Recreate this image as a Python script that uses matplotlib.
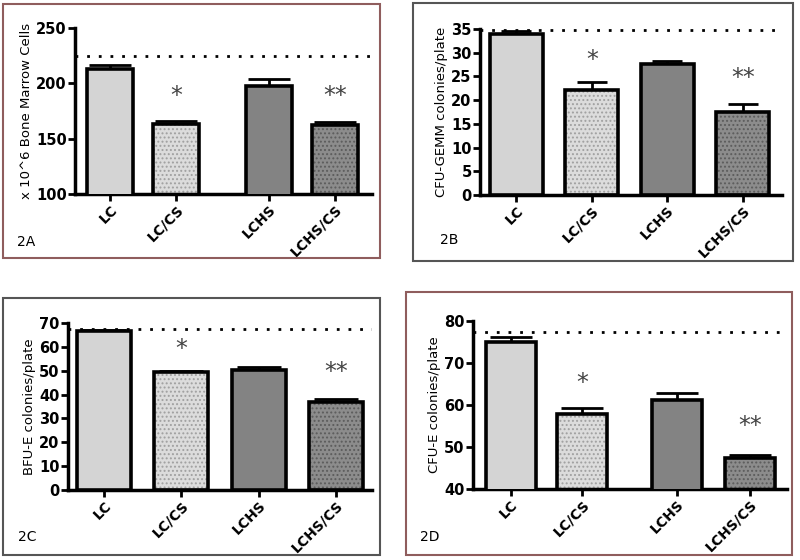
import matplotlib.pyplot as plt
from matplotlib.patches import Rectangle

groups = ["LC", "LC/CS", "LCHS", "LCHS/CS"]

# panel 2A
bm_cells = [213, 163.5, 197.5, 162.5]
bm_err = [4, 2.5, 6.5, 2.5]
bm_ref = 225
# panel 2B
gemm = [34.0, 22.2, 27.7, 17.6]
gemm_err = [0.6, 1.6, 0.6, 1.5]
gemm_ref = 34.7
# panel 2C
bfue = [66.7, 49.4, 50.4, 37.0]
bfue_err = [0.3, 0.5, 1.2, 1.3]
bfue_ref = 67.5
# panel 2D
cfue = [74.9, 57.9, 61.2, 47.3]
cfue_err = [1.2, 1.5, 1.7, 0.8]
cfue_ref = 77.4

fills = ["#d4d4d4", "#dcdcdc", "#838383", "#8c8c8c"]
dots = [None, "#a0a0a0", None, "#5c5c5c"]

plt.rcParams["hatch.linewidth"] = 0.9

fig = plt.figure(figsize=(8, 5.6), dpi=100)

# panel frames (pixel boxes: x0, y0, x1, y1 from top-left)
frames = [((3, 4, 380, 258), "#8f5d5d"), ((413, 3, 793, 261), "#555555"),
          ((3, 298, 380, 555), "#555555"), ((406, 292, 792, 555), "#8f5d5d")]
for (x0, y0, x1, y1), c in frames:
    fig.patches.append(Rectangle((x0 / 800, 1 - y1 / 560), (x1 - x0) / 800, (y1 - y0) / 560,
                                 transform=fig.transFigure, fill=False, edgecolor=c, lw=1.5))


def panel(rect, pos, vals, errs, ref, ylim, yticks, xlim, ylabel, tag, tagxy, stars, caps):
    ax = fig.add_axes(rect)
    for i in range(4):
        if dots[i]:
            ax.bar(pos[i], vals[i], 0.7, color=fills[i], edgecolor=dots[i], hatch="....", lw=0, zorder=2)
            ax.bar(pos[i], vals[i], 0.7, fill=False, edgecolor="black", lw=2.6, zorder=3)
        else:
            ax.bar(pos[i], vals[i], 0.7, color=fills[i], edgecolor="black", lw=2.6, zorder=3)
    ax.errorbar(pos, vals, yerr=[[0] * 4, errs], fmt="none", ecolor="black",
                elinewidth=2, capsize=caps, capthick=2, zorder=1)
    ax.axhline(ref, color="black", lw=2, ls=(0, (1, 3.2)), zorder=4)
    for i, s in stars.items():
        ax.text(pos[i], s, "*" if i == 1 else "**", ha="center", va="top",
                fontsize=17, color="#444444")
    ax.set_ylim(*ylim)
    ax.set_xlim(*xlim)
    ax.set_yticks(yticks)
    ax.set_xticks(pos)
    ax.set_xticklabels(groups, rotation=45, ha="right", rotation_mode="anchor",
                       fontweight="bold", fontsize=10)
    for lab in ax.get_yticklabels():
        lab.set_fontweight("bold")
        lab.set_fontsize(10.5)
    ax.set_ylabel(ylabel, fontsize=9.5, labelpad=2)
    ax.spines[["top", "right"]].set_visible(False)
    ax.spines[["left", "bottom"]].set_linewidth(2.5)
    ax.tick_params(width=2, length=5, pad=1)
    fig.text(tagxy[0] / 800, 1 - tagxy[1] / 560, tag, fontsize=10, va="center")
    return ax


# star positions are the top of the text box, in data units
panel([75 / 800, 1 - 194 / 560, 297 / 800, 166 / 560], [0, 1, 2.4, 3.4], bm_cells, bm_err,
      bm_ref, (100, 250), [100, 150, 200, 250], (-0.53, 3.96),
      "x 10^6 Bone Marrow Cells", "2A", (17, 242), {1: 199, 3: 199}, 15)
panel([480 / 800, 1 - 195 / 560, 302 / 800, 166 / 560], [0, 1, 2, 3], gemm, gemm_err,
      gemm_ref, (0, 35), range(0, 36, 5), (-0.48, 3.52),
      "CFU-GEMM colonies/plate", "2B", (440, 240), {1: 31.0, 3: 27.1}, 11)
panel([68 / 800, 1 - 490 / 560, 304 / 800, 167 / 560], [0, 1, 2, 3], bfue, bfue_err,
      bfue_ref, (0, 70), range(0, 71, 10), (-0.47, 3.47),
      "BFU-E colonies/plate", "2C", (18, 537), {1: 64.0, 3: 54.3}, 16)
panel([473 / 800, 1 - 489 / 560, 314 / 800, 168 / 560], [0, 1, 2.33, 3.35], cfue, cfue_err,
      cfue_ref, (40, 80), [40, 50, 60, 70, 80], (-0.53, 3.87),
      "CFU-E colonies/plate", "2D", (420, 537), {1: 68.1, 3: 57.8}, 15)

fig.savefig("out.png", dpi=100)
